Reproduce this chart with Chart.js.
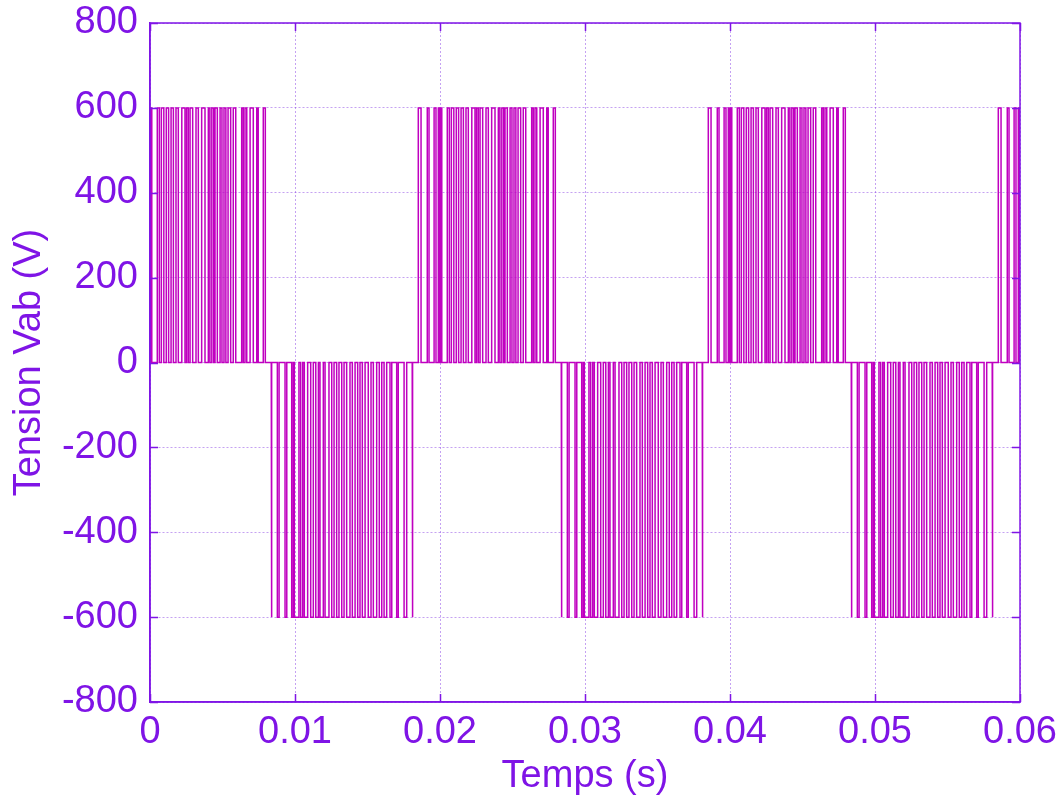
<!DOCTYPE html>
<html>
<head>
<meta charset="utf-8">
<script src="https://cdn.jsdelivr.net/npm/chart.js@4/dist/chart.umd.min.js"></script>
<style>
  html, body { margin: 0; padding: 0; background: #ffffff; }
  #c { display: block; }
</style>
</head>
<body>
<canvas id="c" width="1061" height="800"></canvas>
<script>
// ---- data ----
// pulse edge instants (ms, measured from the start of each half-cycle)
const posEdgesMs = [0.17,0.36,0.79,0.91,1.26,1.39,1.55,1.63,1.71,1.79,2.17,2.31,2.45,2.62,2.79,2.95,3.12,3.28,3.46,3.62,3.86,4.08,4.19,4.31,4.43,4.61,4.84,5.00,5.23,5.46,5.69,5.80,5.93,6.06,6.15,6.31,6.50,6.63,6.77,6.90,7.05,7.23,7.41,7.58,7.99,8.10,8.22,8.34,8.57,8.79,9.03,9.13,9.48,9.62];
const negEdgesMs = [0.03,0.07,0.45,0.57,0.98,1.10,1.44,1.55,1.62,1.94,2.06,2.20,2.31,2.54,2.75,2.93,3.10,3.28,3.39,3.62,3.74,4.01,4.20,4.36,4.54,4.70,4.89,5.05,5.23,5.46,5.62,5.81,5.99,6.15,6.31,6.50,6.72,6.91,7.07,7.30,7.48,7.65,7.81,7.99,8.22,8.34,8.68,8.79,9.19,9.37,9.75,9.79];
const halfCycleStartsMs = [-1.667, 8.333, 18.333, 28.333, 38.333, 48.333, 58.333];
const halfCyclePolarity = [1, -1, 1, -1, 1, -1, 1];
const pulseLevel = 600;
const xTickValues = [0, 0.01, 0.02, 0.03, 0.04, 0.05, 0.06];
const xTickLabels = ['0', '0.01', '0.02', '0.03', '0.04', '0.05', '0.06'];
const yTickValues = [-800, -600, -400, -200, 0, 200, 400, 600, 800];
const yTickLabels = ['-800', '-600', '-400', '-200', '0', '200', '400', '600', '800'];

// ---- build the stepped waveform table ----
const points = [{x: -0.002, y: 0}];
halfCycleStartsMs.forEach((start, i) => {
  const pol = halfCyclePolarity[i];
  const edges = pol > 0 ? posEdgesMs : negEdgesMs;
  const level = pol * pulseLevel;
  edges.forEach((e, k) => {
    const t = (start + e) / 1000;
    const rising = k % 2 === 0;
    points.push({x: t, y: rising ? 0 : level});
    points.push({x: t, y: rising ? level : 0});
  });
});
points.push({x: 0.07, y: 0});

const axisColor = 'rgb(127,20,230)';
const gridColor = 'rgba(140,70,230,0.5)';
const lineColor = 'rgb(192,0,192)';
const fontFamily = '"Liberation Sans", Arial, sans-serif';

const framePlugin = {
  id: 'frame',
  afterDatasetsDraw(chart) {
    const {ctx, chartArea: {left, right, top, bottom}, scales: {x, y}} = chart;
    ctx.save();
    ctx.strokeStyle = axisColor;
    ctx.lineWidth = 1.5;
    ctx.strokeRect(left, top, right - left, bottom - top);
    ctx.beginPath();
    const L = 8;
    x.ticks.forEach(t => {
      const px = Math.round(x.getPixelForValue(t.value)) + 0.5;
      ctx.moveTo(px, bottom); ctx.lineTo(px, bottom - L);
      ctx.moveTo(px, top); ctx.lineTo(px, top + L);
    });
    y.ticks.forEach(t => {
      const py = Math.round(y.getPixelForValue(t.value)) + 0.5;
      ctx.moveTo(left, py); ctx.lineTo(left + L, py);
      ctx.moveTo(right, py); ctx.lineTo(right - L, py);
    });
    ctx.stroke();
    ctx.restore();
  }
};

new Chart(document.getElementById('c'), {
  type: 'line',
  data: {
    datasets: [{
      data: points,
      borderColor: lineColor,
      borderWidth: 1.5,
      pointRadius: 0,
      fill: false,
      tension: 0
    }]
  },
  options: {
    responsive: false,
    animation: false,
    parsing: false,
    normalized: true,
    layout: { padding: { top: 23, right: 41, left: 0, bottom: 0 } },
    plugins: { legend: { display: false }, tooltip: { enabled: false } },
    scales: {
      x: {
        type: 'linear',
        min: 0, max: 0.06,
        afterBuildTicks: s => { s.ticks = xTickValues.map(v => ({value: v})); },
        afterFit: s => { s.height = 98; s.paddingLeft = 0; s.paddingRight = 0; },
        ticks: {
          color: axisColor,
          font: { family: fontFamily, size: 38 },
          padding: 8,
          maxRotation: 0,
          autoSkip: false,
          callback: (v) => { const i = xTickValues.findIndex(t => Math.abs(t - v) < 1e-9); return i >= 0 ? xTickLabels[i] : ''; }
        },
        grid: { color: gridColor, lineWidth: 1, drawTicks: false },
        border: { display: true, color: axisColor, width: 1.5, dash: [2, 2] },
        title: {
          display: true, text: 'Temps (s)', color: axisColor,
          font: { family: fontFamily, size: 38 },
          padding: { top: 0, bottom: 1 }
        }
      },
      y: {
        type: 'linear',
        min: -800, max: 800,
        afterBuildTicks: s => { s.ticks = yTickValues.map(v => ({value: v})); },
        afterFit: s => { s.width = 150; s.paddingTop = 0; s.paddingBottom = 0; },
        ticks: {
          color: axisColor,
          font: { family: fontFamily, size: 38 },
          padding: 12,
          autoSkip: false,
          callback: (v) => { const i = yTickValues.indexOf(v); return i >= 0 ? yTickLabels[i] : ''; }
        },
        grid: { color: gridColor, lineWidth: 1, drawTicks: false },
        border: { display: true, color: axisColor, width: 1.5, dash: [2, 2] },
        title: {
          display: true, text: 'Tension Vab (V)', color: axisColor,
          font: { family: fontFamily, size: 38 },
          padding: { top: 7, bottom: 0 }
        }
      }
    }
  },
  plugins: [framePlugin]
});
</script>
</body>
</html>
